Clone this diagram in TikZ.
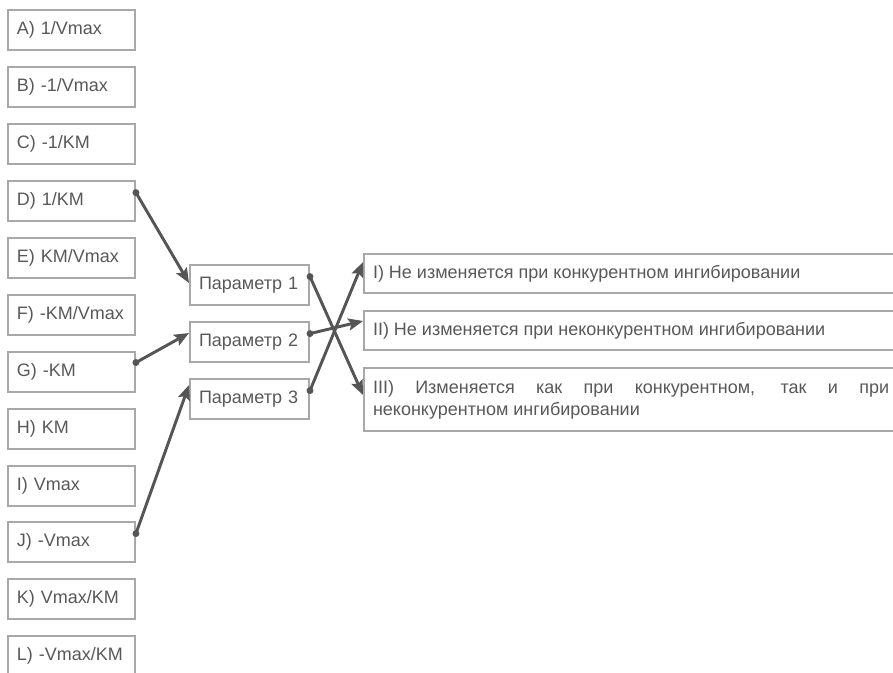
\documentclass[tikz,border=0pt]{standalone}
\usepackage{fontspec}
\setmainfont{Liberation Sans}
\usetikzlibrary{arrows.meta,calc}
\definecolor{boxgray}{HTML}{A8A8A8}
\definecolor{linegray}{HTML}{555555}
\definecolor{txtgray}{HTML}{585858}
\begin{document}
\begin{tikzpicture}[x=0.75pt, y=-0.75pt, font=\fontsize{13.5}{16.5}\selectfont, text=txtgray,
  lbox/.style={draw=boxgray, line width=1.5pt, anchor=west, inner xsep=6.6pt, inner ysep=0pt,
    text width=82pt, minimum height=30pt, align=left},
  pbox/.style={draw=boxgray, line width=1.5pt, anchor=west, inner xsep=6.75pt, inner ysep=0pt,
    text width=75.75pt, minimum height=30pt, align=left},
  rbox/.style={draw=boxgray, line width=1.5pt, anchor=west, inner xsep=6.75pt, inner ysep=0pt,
    text width=387pt, minimum height=29.25pt, align=justify},
  conn/.style={draw=linegray, line width=2.2pt, -{Stealth[length=11pt, width=9pt, inset=2pt]}},
  dot/.style={fill=linegray}]
  \useasboundingbox (0,0) rectangle (893,673);
  % left column
  \node[lbox] (a) at (7,30) {A) 1/Vmax};
  \node[lbox] (b) at (7,87) {B) -1/Vmax};
  \node[lbox] (c) at (7,144) {C) -1/KM};
  \node[lbox] (d) at (7,201) {D) 1/KM};
  \node[lbox] (e) at (7,258) {E) KM/Vmax};
  \node[lbox] (f) at (7,315) {F) -KM/Vmax};
  \node[lbox] (g) at (7,372) {G) -KM};
  \node[lbox] (h) at (7,429) {H) KM};
  \node[lbox] (i) at (7,486) {I) Vmax};
  \node[lbox] (j) at (7,542) {J) -Vmax};
  \node[lbox] (k) at (7,599) {K) Vmax/KM};
  \node[lbox] (l) at (7,656) {L) -Vmax/KM};
  % parameters
  \node[pbox] (p1) at (189,285) {Параметр 1};
  \node[pbox] (p2) at (189,342) {Параметр 2};
  \node[pbox] (p3) at (189,399) {Параметр 3};
  % right column
  \node[rbox] (r1) at (363,273.5) {I) Не изменяется при конкурентном ингибировании};
  \node[rbox] (r2) at (363,330.5) {II) Не изменяется при неконкурентном ингибировании};
  \node[rbox, minimum height=47.25pt] (r3) at (363,399.5) {III) Изменяется как при конкурентном, так и при\linebreak неконкурентном ингибировании};
  % connectors
  \coordinate (sd) at ($(d.east)!0.4!(d.north east)$);
  \coordinate (sg) at ($(g.east)!0.45!(g.north east)$);
  \coordinate (sj) at ($(j.east)!0.4!(j.north east)$);
  \coordinate (s1) at ($(p1.east)!0.4!(p1.north east)$);
  \coordinate (s2) at ($(p2.east)!0.4!(p2.north east)$);
  \coordinate (s3) at ($(p3.east)!0.4!(p3.north east)$);
  \draw[conn] (sd) -- ($(p1.west)+(0,-2)$);
  \draw[conn] (sg) -- ($(p2.west)+(0,-9)$);
  \draw[conn] (sj) -- ($(p3.west)+(0,-14)$);
  \draw[conn] (s1) -- ($(r3.west)+(0,-4.5)$);
  \draw[conn] (s2) -- ($(r2.west)+(0,-9.5)$);
  \draw[conn] (s3) -- ($(r1.west)+(0,-11.5)$);
  \foreach \s in {sd,sg,sj,s1,s2,s3} \fill[dot] (\s) circle (2.6pt);
\end{tikzpicture}
\end{document}
